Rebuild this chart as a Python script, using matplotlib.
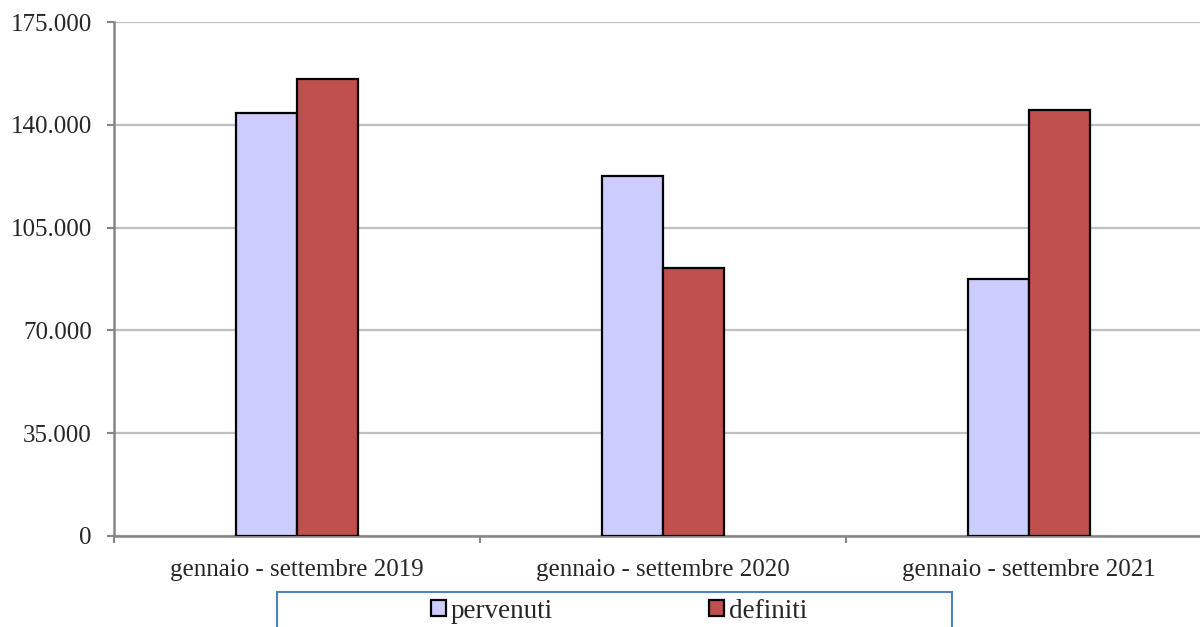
import matplotlib
matplotlib.use("Agg")
import matplotlib.pyplot as plt
from matplotlib.patches import Rectangle
from matplotlib.ticker import FuncFormatter, FixedLocator
import numpy as np

categories = ["gennaio - settembre 2019", "gennaio - settembre 2020", "gennaio - settembre 2021"]
pervenuti = [144000, 122700, 87500]
definiti = [155600, 91400, 145200]
series_names = ["pervenuti", "definiti"]
y_ticks = [0, 35000, 70000, 105000, 140000, 175000]

plt.rcParams['font.family'] = ['Liberation Serif', 'DejaVu Serif']
text_color = '#262626'

fig = plt.figure(figsize=(12, 6.27), dpi=100)
ax = fig.add_axes([114/1200, 1-535.8/627, 1098/1200, (535.8-22.3)/627])

x = np.arange(len(categories))
w = 0.167
b1 = ax.bar(x - w/2, pervenuti, w, color='#CCCCFF', edgecolor='black', linewidth=1.6, label=series_names[0], zorder=3)
b2 = ax.bar(x + w/2, definiti, w, color='#C0504D', edgecolor='black', linewidth=1.6, label=series_names[1], zorder=3)

ax.set_xlim(-0.5, 2.5)
ax.set_ylim(0, 175000)
ax.set_yticks(y_ticks)
ax.yaxis.set_major_formatter(FuncFormatter(lambda v, p: f"{int(v):,}".replace(",", ".")))
ax.yaxis.grid(True, color='#BFBFBF', linewidth=1.6, zorder=0)
ax.set_axisbelow(True)

ax.xaxis.set_major_locator(FixedLocator([-0.5, 0.5, 1.5, 2.5]))
ax.xaxis.set_major_formatter(FuncFormatter(lambda v, p: ""))
ax.xaxis.set_minor_locator(FixedLocator(list(x)))
ax.set_xticklabels(categories, minor=True)
ax.tick_params(axis='x', which='minor', length=0, pad=17, labelsize=18, labelcolor=text_color)
ax.tick_params(axis='x', which='major', direction='out', length=5, width=1.5, color='#868686')
ax.tick_params(axis='y', direction='out', length=5, width=1.5, color='#868686', pad=11, labelsize=18, labelcolor=text_color)

for s in ['top', 'right']:
    ax.spines[s].set_visible(False)
for s in ['left', 'bottom']:
    ax.spines[s].set_color('#868686')
    ax.spines[s].set_linewidth(1.8)

fig.patches.append(Rectangle((277/1200, -0.05), 675/1200, (627-592)/627 + 0.05,
                             transform=fig.transFigure, fill=False, edgecolor='#4F81BD', linewidth=1.5))
leg = fig.legend(handles=[b1, b2], labels=series_names, loc='center', bbox_to_anchor=(619/1200, 1-611/627),
                 ncol=2, frameon=False, fontsize=19.5, handlelength=0.55, handleheight=0.55,
                 handletextpad=0.2, columnspacing=5.75, labelcolor=text_color, borderpad=0)

fig.savefig("out.png", dpi=100)
